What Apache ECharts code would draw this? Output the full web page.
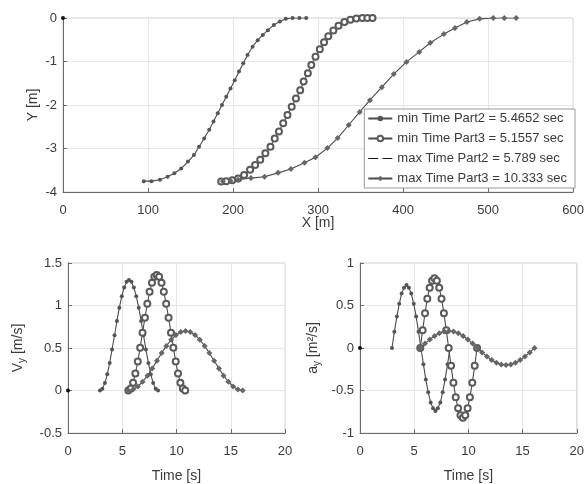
<!DOCTYPE html>
<html><head><meta charset="utf-8">
<script src="https://cdn.jsdelivr.net/npm/echarts@6/dist/echarts.min.js"></script>
<style>html,body{margin:0;padding:0;background:#fff}#c{width:587px;height:484px}</style>
</head><body><div id="c"></div>
<script>
// ---- Top plot: Y vs X ----
const legendNames = ['min Time Part2 = 5.4652 sec','min Time Part3 = 5.1557 sec','max Time Part2 = 5.789 sec','max Time Part3 = 10.333 sec'];
const xA = [95,104,114,123,131,139,147,154,160,166,172,177,182,187,192,197,202,207,212,217,223,229,235,241,248,255,262,270,278,286];
const yA = [-3.75,-3.75,-3.72,-3.65,-3.57,-3.46,-3.30,-3.15,-2.96,-2.77,-2.57,-2.38,-2.19,-2.00,-1.81,-1.62,-1.43,-1.23,-1.04,-0.85,-0.66,-0.51,-0.39,-0.28,-0.16,-0.08,-0.02,0,0,0];
const xB = [186,192,199,206,213,220,226,232,238,244,249,254,259,264,269,274,279,283,288,292,297,302,307,312,318,324,331,338,345,352,358,364];
const yB = [-3.76,-3.75,-3.73,-3.69,-3.61,-3.49,-3.38,-3.26,-3.11,-2.96,-2.77,-2.61,-2.42,-2.23,-2.04,-1.85,-1.66,-1.46,-1.27,-1.08,-0.89,-0.72,-0.56,-0.42,-0.29,-0.18,-0.09,-0.04,-0.01,0,0,0];
const xMax2 = [0];
const yMax2 = [0];
const xC = [188,197,206,221,237,253,268,284,297,311,323,336,349,361,375,389,404,419,432,448,461,475,490,506,519,533];
const yC = [-3.75,-3.74,-3.72,-3.68,-3.65,-3.56,-3.47,-3.33,-3.2,-2.99,-2.76,-2.46,-2.16,-1.89,-1.59,-1.29,-1.01,-0.78,-0.57,-0.37,-0.23,-0.09,-0.02,0,0,0];

// ---- Bottom plots: velocity and acceleration vs time ----
const tP2  = [2.95,3.17,3.40,3.62,3.84,4.06,4.29,4.51,4.73,4.96,5.18,5.40,5.62,5.85,6.07,6.29,6.52,6.74,6.96,7.18,7.41,7.63,7.85,8.08,8.30];
const vP2  = [0,0.022,0.087,0.19,0.325,0.482,0.65,0.818,0.975,1.11,1.213,1.278,1.3,1.278,1.213,1.11,0.975,0.818,0.65,0.482,0.325,0.19,0.087,0.022,0];
const aP2  = [0,0.19,0.37,0.52,0.64,0.71,0.74,0.71,0.64,0.52,0.37,0.19,0,-0.19,-0.37,-0.52,-0.64,-0.71,-0.74,-0.71,-0.64,-0.52,-0.37,-0.19,0];
const tP3a = [5.56,5.78,6.00,6.21,6.43,6.65,6.87,7.09,7.31,7.52,7.74,7.96,8.18,8.40,8.62,8.83,9.05,9.27,9.49,9.71,9.93,10.14,10.36,10.58,10.80];
const vP3a = [0,0.023,0.091,0.199,0.34,0.504,0.68,0.856,1.02,1.161,1.269,1.337,1.36,1.337,1.269,1.161,1.02,0.856,0.68,0.504,0.34,0.199,0.091,0.023,0];
const aP3a = [0,0.21,0.41,0.58,0.71,0.79,0.82,0.79,0.71,0.58,0.41,0.21,0,-0.21,-0.41,-0.58,-0.71,-0.79,-0.82,-0.79,-0.71,-0.58,-0.41,-0.21,0];
const tP3b = [5.56,6.00,6.44,6.88,7.32,7.76,8.20,8.63,9.07,9.51,9.95,10.39,10.83,11.27,11.71,12.15,12.59,13.03,13.47,13.91,14.34,14.78,15.22,15.66,16.10];
const vP3b = [0,0.012,0.047,0.103,0.175,0.259,0.35,0.441,0.525,0.597,0.653,0.688,0.70,0.688,0.653,0.597,0.525,0.441,0.35,0.259,0.175,0.103,0.047,0.012,0];
const aP3b = [0,0.052,0.1,0.141,0.173,0.193,0.2,0.193,0.173,0.141,0.1,0.052,0,-0.052,-0.1,-0.141,-0.173,-0.193,-0.2,-0.193,-0.173,-0.141,-0.1,-0.052,0];
const tOrigin = [0];
const valOrigin = [0];

const zip = (xs, ys) => xs.map((x, i) => [x, ys[i]]);
const FONT = '"Liberation Sans", Arial, sans-serif';
const TXT = '#3a3a3a';
const AX = '#6a6a6a';
const LINE = '#4a4a4a';

function xAx(gi, min, max, interval, name, nameGap) {
  return {type:'value', gridIndex:gi, min, max, interval, name, nameLocation:'middle', nameGap,
    nameMoveOverlap:false,
    nameTextStyle:{fontFamily:FONT, fontSize:14, color:TXT},
    axisLine:{show:true, onZero:false, lineStyle:{color:AX}},
    axisTick:{show:true, inside:true, length:4, lineStyle:{color:AX}},
    axisLabel:{fontFamily:FONT, fontSize:13, color:TXT, margin:12},
    splitLine:{show:true, lineStyle:{color:'#e6e6e6'}}};
}
function yAx(gi, min, max, interval, name, nameGap, rich) {
  return {type:'value', gridIndex:gi, min, max, interval, name, nameLocation:'middle', nameGap,
    nameMoveOverlap:false,
    nameTextStyle:{fontFamily:FONT, fontSize:14, color:TXT, rich: rich || undefined},
    axisLine:{show:true, onZero:false, lineStyle:{color:AX}},
    axisTick:{show:true, inside:true, length:4, lineStyle:{color:AX}},
    axisLabel:{fontFamily:FONT, fontSize:13, color:TXT, margin:6},
    splitLine:{show:true, lineStyle:{color:'#e6e6e6'}}};
}
const subRich = {
  n:{fontFamily:FONT, fontSize:14, color:TXT, lineHeight:16},
  s:{fontFamily:FONT, fontSize:10, color:TXT, lineHeight:10, padding:[9,0,0,0]}
};

function mk(name, xi, yi, data, kind) {
  const base = {name, type:'line', xAxisIndex:xi, yAxisIndex:yi, data, animation:false,
    lineStyle:{color:LINE, width:1.1}, showSymbol:true};
  if (kind === 'A') return Object.assign(base, {symbol:'circle', symbolSize:4, itemStyle:{color:'#555'}});
  if (kind === 'B') return Object.assign(base, {symbol:'emptyCircle', symbolSize:6, itemStyle:{color:'#5a5a5a', borderWidth:1.2}});
  if (kind === 'C') return Object.assign(base, {symbol:'diamond', symbolSize:6, itemStyle:{color:'#666'}});
  return Object.assign(base, {symbol:'circle', symbolSize:4, lineStyle:{color:'#666', width:1, type:'dashed'}, itemStyle:{color:'#111'}});
}

const chart = echarts.init(document.getElementById('c'), null, {renderer:'canvas'});
chart.setOption({
  backgroundColor:'#ffffff',
  animation:false,
  grid:[
    {left:63, top:18, width:514, height:174, show:true, borderColor:'#d2d2d2', borderWidth:1, backgroundColor:'#fff'},
    {left:68, top:263, width:217, height:172, show:true, borderColor:'#d2d2d2', borderWidth:1, backgroundColor:'#fff'},
    {left:360, top:263, width:217, height:172, show:true, borderColor:'#d2d2d2', borderWidth:1, backgroundColor:'#fff'}
  ],
  xAxis:[
    xAx(0, 0, 600, 100, 'X [m]', 24),
    xAx(1, 0, 20, 5, 'Time [s]', 36),
    xAx(2, 0, 20, 5, 'Time [s]', 36)
  ],
  yAxis:[
    yAx(0, -4, 0, 1, 'Y [m]', 23),
    yAx(1, -0.5, 1.5, 0.5, '{n|V}{s|y}{n| [m/s]}', 42, subRich),
    yAx(2, -1, 1, 0.5, '{n|a}{s|y}{n| [m²/s]}', 39, subRich)
  ],
  legend:{
    orient:'vertical', right:12, top:109,
    data:[{name:legendNames[0]},{name:legendNames[1]},{name:legendNames[2], icon:'path://M0,0h9v1H0z M13,0h9v1h-9z'},{name:legendNames[3]}],
    itemWidth:24, itemHeight:7, itemGap:5,
    padding:[2,8,2,3],
    backgroundColor:'#fff', borderColor:'#9a9a9a', borderWidth:1, borderRadius:0,
    textStyle:{fontFamily:FONT, fontSize:13, color:TXT, lineHeight:15}
  },
  series:[
    mk(legendNames[0], 0, 0, zip(xA, yA), 'A'),
    mk(legendNames[1], 0, 0, zip(xB, yB), 'B'),
    mk(legendNames[2], 0, 0, zip(xMax2, yMax2), 'D'),
    mk(legendNames[3], 0, 0, zip(xC, yC), 'C'),
    mk('v-min2', 1, 1, zip(tP2, vP2), 'A'),
    mk('v-min3', 1, 1, zip(tP3a, vP3a), 'B'),
    mk('v-max2', 1, 1, zip(tOrigin, valOrigin), 'D'),
    mk('v-max3', 1, 1, zip(tP3b, vP3b), 'C'),
    mk('a-min2', 2, 2, zip(tP2, aP2), 'A'),
    mk('a-min3', 2, 2, zip(tP3a, aP3a), 'B'),
    mk('a-max2', 2, 2, zip(tOrigin, valOrigin), 'D'),
    mk('a-max3', 2, 2, zip(tP3b, aP3b), 'C')
  ]
});
</script></body></html>
